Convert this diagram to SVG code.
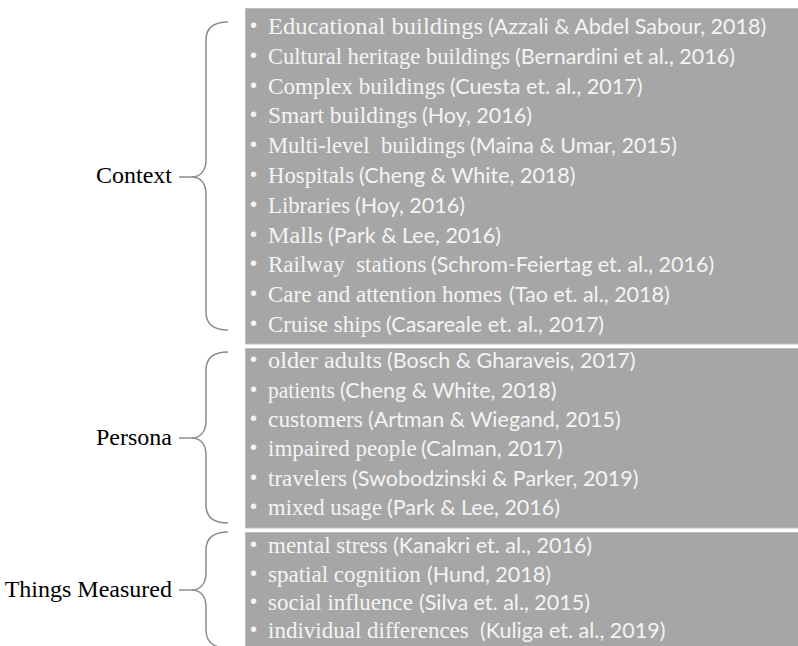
<svg xmlns="http://www.w3.org/2000/svg" width="798" height="646" viewBox="0 0 798 646">
<style>
.box{fill:#a6a6a6;stroke:#bdbdbd;stroke-width:1}
.it{font-family:"Liberation Serif","Times New Roman",serif;font-size:23px;fill:#f4f4f4}
.ci{font-family:Lato,"Liberation Sans",sans-serif;font-size:21.5px;fill:#f4f4f4}
.bu{font-family:"Liberation Sans",Arial,sans-serif;font-size:20px;fill:#f4f4f4;text-anchor:middle}
.lb{font-family:"Liberation Serif","Times New Roman",serif;font-size:24px;fill:#000;text-anchor:end}
.br{fill:none;stroke:#8c8c8c;stroke-width:1.5}
</style>
<rect width="798" height="646" fill="#fff"/>
<g id="connectors">
<path class="br" d="M228,22 C214,22 206,27 206,40 L206,160 C206,171 200,177 192,177 C200,177 206,183 206,194 L206,312 C206,325 214,330 228,330"/>
<path class="br" d="M179,177 H193"/>
<path class="br" d="M228,352 C214,352 206,357 206,370 L206,421 C206,432 200,438 192,438 C200,438 206,444 206,455 L206,505 C206,518 214,523 228,523"/>
<path class="br" d="M179,438 H193"/>
<path class="br" d="M228,532 C214,532 206,537 206,550 L206,573 C206,584 200,590 192,590 C200,590 206,596 206,607 L206,630 C206,643 214,648 228,648"/>
<path class="br" d="M179,590 H193"/>
</g>
<g id="context-label"><text class="lb" x="172" y="183">Context</text></g>
<g id="persona-label"><text class="lb" x="172" y="445">Persona</text></g>
<g id="measured-label"><text class="lb" x="172" y="597">Things Measured</text></g>
<g id="context-list">
<rect class="box" x="245.5" y="8.5" width="560" height="335.5"/>
<text class="bu" x="253.5" y="32">•</text><text class="it" x="268" y="34" textLength="215" lengthAdjust="spacingAndGlyphs">Educational buildings</text><text class="ci" x="488" y="34">(Azzali &amp; Abdel Sabour, 2018)</text>
<text class="bu" x="253.5" y="61.8">•</text><text class="it" x="268" y="63.8" textLength="242" lengthAdjust="spacingAndGlyphs">Cultural heritage buildings</text><text class="ci" x="515" y="63.8">(Bernardini et al., 2016)</text>
<text class="bu" x="253.5" y="91.6">•</text><text class="it" x="268" y="93.6" textLength="177" lengthAdjust="spacingAndGlyphs">Complex buildings</text><text class="ci" x="450" y="93.6">(Cuesta et. al., 2017)</text>
<text class="bu" x="253.5" y="121.4">•</text><text class="it" x="268" y="123.4" textLength="149" lengthAdjust="spacingAndGlyphs">Smart buildings</text><text class="ci" x="422" y="123.4">(Hoy, 2016)</text>
<text class="bu" x="253.5" y="151.2">•</text><text class="it" x="268" y="153.2" textLength="197" lengthAdjust="spacingAndGlyphs" xml:space="preserve">Multi-level  buildings</text><text class="ci" x="470" y="153.2">(Maina &amp; Umar, 2015)</text>
<text class="bu" x="253.5" y="181">•</text><text class="it" x="268" y="183" textLength="86" lengthAdjust="spacingAndGlyphs">Hospitals</text><text class="ci" x="359" y="183">(Cheng &amp; White, 2018)</text>
<text class="bu" x="253.5" y="210.8">•</text><text class="it" x="268" y="212.8" textLength="82" lengthAdjust="spacingAndGlyphs">Libraries</text><text class="ci" x="355" y="212.8">(Hoy, 2016)</text>
<text class="bu" x="253.5" y="240.6">•</text><text class="it" x="268" y="242.6" textLength="55" lengthAdjust="spacingAndGlyphs">Malls</text><text class="ci" x="328" y="242.6">(Park &amp; Lee, 2016)</text>
<text class="bu" x="253.5" y="270.4">•</text><text class="it" x="268" y="272.4" xml:space="preserve">Railway  stations</text><text class="ci" x="431" y="272.4">(Schrom-Feiertag et. al., 2016)</text>
<text class="bu" x="253.5" y="300.2">•</text><text class="it" x="268" y="302.2" textLength="234" lengthAdjust="spacingAndGlyphs">Care and attention homes</text><text class="ci" x="509" y="302.2">(Tao et. al., 2018)</text>
<text class="bu" x="253.5" y="330">•</text><text class="it" x="268" y="332">Cruise ships</text><text class="ci" x="386" y="332">(Casareale et. al., 2017)</text>
</g>
<g id="persona-list">
<rect class="box" x="245.5" y="348.5" width="560" height="179.5"/>
<text class="bu" x="253.5" y="366">•</text><text class="it" x="268" y="368" textLength="114" lengthAdjust="spacingAndGlyphs">older adults</text><text class="ci" x="387" y="368">(Bosch &amp; Gharaveis, 2017)</text>
<text class="bu" x="253.5" y="395.5">•</text><text class="it" x="268" y="397.5" textLength="67" lengthAdjust="spacingAndGlyphs">patients</text><text class="ci" x="340" y="397.5">(Cheng &amp; White, 2018)</text>
<text class="bu" x="253.5" y="425">•</text><text class="it" x="268" y="427" textLength="95" lengthAdjust="spacingAndGlyphs">customers</text><text class="ci" x="368" y="427">(Artman &amp; Wiegand, 2015)</text>
<text class="bu" x="253.5" y="454">•</text><text class="it" x="268" y="456">impaired people</text><text class="ci" x="421" y="456">(Calman, 2017)</text>
<text class="bu" x="253.5" y="483.5">•</text><text class="it" x="268" y="485.5" textLength="79" lengthAdjust="spacingAndGlyphs">travelers</text><text class="ci" x="352" y="485.5">(Swobodzinski &amp; Parker, 2019)</text>
<text class="bu" x="253.5" y="513">•</text><text class="it" x="268" y="515" textLength="114" lengthAdjust="spacingAndGlyphs">mixed usage</text><text class="ci" x="387" y="515">(Park &amp; Lee, 2016)</text>
</g>
<g id="measured-list">
<rect class="box" x="245.5" y="532.5" width="560" height="130"/>
<text class="bu" x="253.5" y="551">•</text><text class="it" x="268" y="553">mental stress</text><text class="ci" x="393" y="553">(Kanakri et. al., 2016)</text>
<text class="bu" x="253.5" y="579.5">•</text><text class="it" x="268" y="581.5">spatial cognition</text><text class="ci" x="427" y="581.5">(Hund, 2018)</text>
<text class="bu" x="253.5" y="608">•</text><text class="it" x="268" y="610">social influence</text><text class="ci" x="419" y="610">(Silva et. al., 2015)</text>
<text class="bu" x="253.5" y="636">•</text><text class="it" x="268" y="638">individual differences</text><text class="ci" x="480" y="638">(Kuliga et. al., 2019)</text>
</g>
</svg>
